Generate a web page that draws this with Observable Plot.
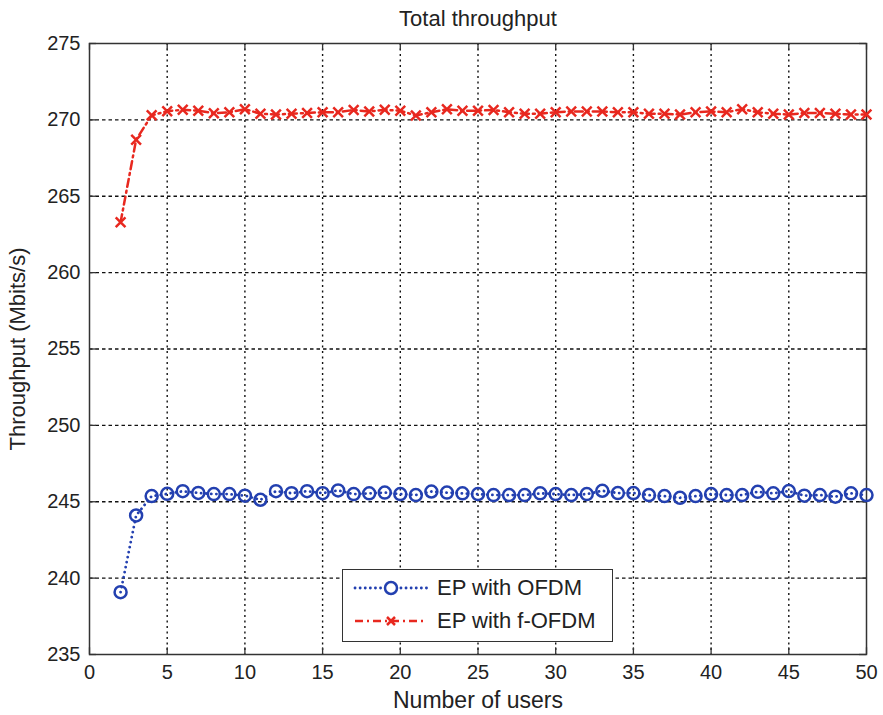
<!DOCTYPE html>
<html><head><meta charset="utf-8">
<script src="https://cdn.jsdelivr.net/npm/d3@7"></script>
<script src="https://cdn.jsdelivr.net/npm/@observablehq/plot@0.6"></script>
<style>
body{margin:0;background:#fff;font-family:Arial,"Liberation Sans",sans-serif;}
#wrap{position:relative;width:883px;height:715px;}
#legend{position:absolute;left:342px;top:569px;width:271px;height:73px;border:1.3px solid #333;background:#fff;box-sizing:border-box;}
.row{position:absolute;left:10px;display:flex;align-items:center;font-size:22px;color:#222;}
.row svg{margin-right:8px;}
</style></head>
<body><div id="wrap"><div id="legend"></div></div>
<script>
const users = d3.range(2, 51);
const ofdm = [239.08,244.1,245.37,245.52,245.69,245.58,245.5,245.5,245.4,245.13,245.69,245.56,245.69,245.56,245.74,245.5,245.55,245.6,245.5,245.44,245.67,245.6,245.55,245.5,245.44,245.44,245.44,245.55,245.5,245.44,245.5,245.72,245.57,245.57,245.44,245.37,245.26,245.37,245.5,245.44,245.44,245.65,245.55,245.7,245.4,245.44,245.33,245.55,245.44];
const fofdm = [263.3,268.7,270.3,270.57,270.66,270.6,270.44,270.5,270.7,270.4,270.35,270.4,270.45,270.5,270.5,270.65,270.55,270.66,270.6,270.29,270.5,270.7,270.6,270.6,270.65,270.5,270.4,270.4,270.5,270.55,270.55,270.55,270.5,270.5,270.4,270.4,270.35,270.5,270.55,270.5,270.7,270.5,270.4,270.35,270.45,270.45,270.4,270.35,270.35];
const seriesNames = ["EP with OFDM","EP with f-OFDM"];
const xTicks = d3.range(0, 51, 5);
const yTicks = d3.range(235, 276, 5);
const titleText = "Total throughput";
const blue = "#2340b0", red = "#e8281f";

const dOfdm = users.map((u,i)=>({x:u,y:ofdm[i]}));
const dF = users.map((u,i)=>({x:u,y:fofdm[i]}));
const x0 = xTicks[0], x1 = xTicks[xTicks.length-1], y0 = yTicks[0], y1 = yTicks[yTicks.length-1];
const tx = (x1-x0)*0.009, ty = (y1-y0)*0.011;

const chart = Plot.plot({
  width: 883, height: 715,
  marginLeft: 89, marginRight: 17, marginTop: 43, marginBottom: 61,
  style: {fontFamily: "Arial, 'Liberation Sans', sans-serif", background: "#fff", color:"#222"},
  x: {domain: [x0, x1]},
  y: {domain: [y0, y1]},
  marks: [
    Plot.gridX(xTicks.slice(1,-1), {stroke:"#111", strokeOpacity:1, strokeWidth:1.4, strokeDasharray:"2,3.5"}),
    Plot.gridY(yTicks.slice(1,-1), {stroke:"#111", strokeOpacity:1, strokeWidth:1.4, strokeDasharray:"3.5,3"}),
    Plot.ruleX(xTicks, {x: d=>d, y1: y0, y2: y0+ty, stroke:"#333", strokeWidth:1.3}),
    Plot.ruleX(xTicks, {x: d=>d, y1: y1, y2: y1-ty, stroke:"#333", strokeWidth:1.3}),
    Plot.ruleY(yTicks, {y: d=>d, x1: x0, x2: x0+tx, stroke:"#333", strokeWidth:1.3}),
    Plot.ruleY(yTicks, {y: d=>d, x1: x1, x2: x1-tx, stroke:"#333", strokeWidth:1.3}),
    Plot.axisX({ticks: xTicks, tickSize: 0, tickPadding: 10, fontSize: 20, label: null}),
    Plot.axisX({ticks: [], tickSize: 0, fontSize: 23, label: "Number of users", labelAnchor: "center", labelArrow: "none", labelOffset: 53}),
    Plot.axisY({ticks: yTicks, tickSize: 0, tickPadding: 9, fontSize: 20, label: null}),
    Plot.axisY({ticks: [], tickSize: 0, fontSize: 22, label: "Throughput (Mbits/s)", labelAnchor: "center", labelArrow: "none", labelOffset: 80}),
    Plot.frame({stroke:"#333", strokeWidth:1.5}),
    Plot.line(dF, {x:"x", y:"y", stroke: red, strokeWidth: 2.5, strokeDasharray: "8,4,2,4"}),
    Plot.dot(dF, {x:"x", y:"y", symbol:"times", r:4.5, stroke: red, strokeWidth: 2.5}),
    Plot.line(dOfdm, {x:"x", y:"y", stroke: blue, strokeWidth: 2.8, strokeDasharray: "0.1,5", strokeLinecap:"round"}),
    Plot.dot(dOfdm, {x:"x", y:"y", symbol:"circle", r:6, stroke: blue, strokeWidth: 2.5, fill:"none"}),
    Plot.text([titleText], {frameAnchor:"top", dy:-18, fontSize:22, fill:"#222", lineAnchor:"bottom"})
  ]
});
chart.style.position="absolute"; chart.style.left="0"; chart.style.top="0";
const wrap = document.getElementById("wrap");
wrap.insertBefore(chart, wrap.firstChild);
const leg = document.getElementById("legend");
const rows = [
  {name: seriesNames[0], color: blue, dash:"0.1,5", cap:"round", sym:"circle"},
  {name: seriesNames[1], color: red, dash:"8,4,2,4", cap:"butt", sym:"times"}
];
rows.forEach((r,i)=>{
  const div = document.createElement("div");
  div.className="row"; div.style.top = (i===0? 5 : 38) + "px";
  const s = d3.create("svg").attr("width",76).attr("height",26);
  s.append("line").attr("x1",2).attr("x2",74).attr("y1",13).attr("y2",13)
    .attr("stroke",r.color).attr("stroke-width",r.sym==="circle"?2.8:2.5)
    .attr("stroke-dasharray",r.dash).attr("stroke-linecap",r.cap);
  if (r.sym==="circle") s.append("circle").attr("cx",38).attr("cy",13).attr("r",6).attr("fill","#fff").attr("stroke",r.color).attr("stroke-width",2.5);
  else s.append("path").attr("d","M34,9L42,17M42,9L34,17").attr("stroke",r.color).attr("stroke-width",2.5);
  div.appendChild(s.node());
  const t = document.createElement("span"); t.textContent = r.name; div.appendChild(t);
  leg.appendChild(div);
});
</script></body></html>
